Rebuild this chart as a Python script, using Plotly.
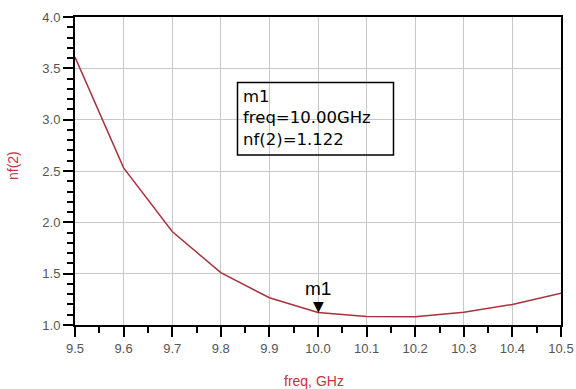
import plotly.graph_objects as go

freq = [9.5, 9.6, 9.7, 9.8, 9.9, 10.0, 10.1, 10.2, 10.3, 10.4, 10.5]
nf2 = [3.61, 2.53, 1.91, 1.51, 1.265, 1.122, 1.082, 1.080, 1.125, 1.20, 1.31]
x_ticks = [9.5, 9.6, 9.7, 9.8, 9.9, 10.0, 10.1, 10.2, 10.3, 10.4, 10.5]
x_labels = ["9.5", "9.6", "9.7", "9.8", "9.9", "10.0", "10.1", "10.2", "10.3", "10.4", "10.5"]
y_ticks = [1.0, 1.5, 2.0, 2.5, 3.0, 3.5, 4.0]
y_labels = ["1.0", "1.5", "2.0", "2.5", "3.0", "3.5", "4.0"]
x_title = "freq, GHz"
y_title = "nf(2)"
marker_name = "m1"
marker_freq = 10.0
marker_val = 1.122

L, R, T, B = 75, 15, 17, 64
W, H = 576, 389
PW, PH = W - L - R, H - T - B

def px(xp):
    return (xp - L) / PW

def py(yp):
    return (H - B - yp) / PH

fig = go.Figure()
fig.add_trace(go.Scatter(x=freq, y=nf2, mode="lines",
                         line=dict(color="#a8323e", width=1.5),
                         hoverinfo="skip"))

tickfont = dict(family="Liberation Sans, Arial", size=13, color="#555555")
titlefont = dict(family="Liberation Sans, Arial", size=14, color="#c8313f")

fig.update_xaxes(range=[9.5, 10.5], tickvals=x_ticks, ticktext=x_labels,
                 showline=True, linecolor="black", linewidth=2, mirror=True,
                 ticks="outside", ticklen=10, tickwidth=2, tickcolor="black",
                 showgrid=True, gridcolor="#c8c8c8", gridwidth=1,
                 zeroline=False, tickfont=tickfont, automargin=False,
                 minor=dict(dtick=0.05, tick0=9.5, ticks="outside", ticklen=6,
                            tickwidth=2, tickcolor="black", showgrid=False))
fig.update_yaxes(range=[1.0, 4.0], tickvals=y_ticks, ticktext=y_labels,
                 showline=True, linecolor="black", linewidth=2, mirror=True,
                 ticks="outside", ticklen=10, tickwidth=2, tickcolor="black",
                 showgrid=True, gridcolor="#c8c8c8", gridwidth=1,
                 zeroline=False, tickfont=tickfont, automargin=False,
                 minor=dict(dtick=0.1, tick0=1.0, ticks="outside", ticklen=6,
                            tickwidth=2, tickcolor="black", showgrid=False))

# axis titles
fig.add_annotation(x=px(314), y=py(381), xref="paper", yref="paper",
                   text=x_title, showarrow=False, xanchor="center", yanchor="middle",
                   font=titlefont)
fig.add_annotation(x=px(13), y=py(166), xref="paper", yref="paper",
                   text=y_title, showarrow=False, xanchor="center", yanchor="middle",
                   textangle=-90, font=titlefont)

# marker triangle and label
fig.add_annotation(x=marker_freq, y=marker_val, xref="x", yref="y",
                   text="\u25bc", showarrow=False, yanchor="bottom", yshift=-4,
                   font=dict(family="DejaVu Sans", size=14, color="black"))
fig.add_annotation(x=marker_freq, y=marker_val, xref="x", yref="y",
                   text=marker_name, showarrow=False, yanchor="middle", yshift=24,
                   font=dict(family="Liberation Sans, Arial", size=19, color="black"))

# readout box
fig.add_shape(type="rect", xref="paper", yref="paper",
              x0=px(237.5), x1=px(393.5), y0=py(155), y1=py(82.5),
              line=dict(color="black", width=1.5), fillcolor="rgba(0,0,0,0)")
readout = "<br>".join([marker_name, "freq=%.2fGHz" % marker_freq, "nf(2)=%.3f" % marker_val])
fig.add_annotation(x=px(241), y=py(118), xref="paper", yref="paper",
                   text=readout, showarrow=False, xanchor="left", yanchor="middle",
                   align="left",
                   font=dict(family="DejaVu Sans", size=16.5, color="black"))

fig.update_layout(width=W, height=H, margin=dict(l=L, r=R, t=T, b=B),
                  plot_bgcolor="white", paper_bgcolor="white", showlegend=False)

fig.write_html("out.html")
